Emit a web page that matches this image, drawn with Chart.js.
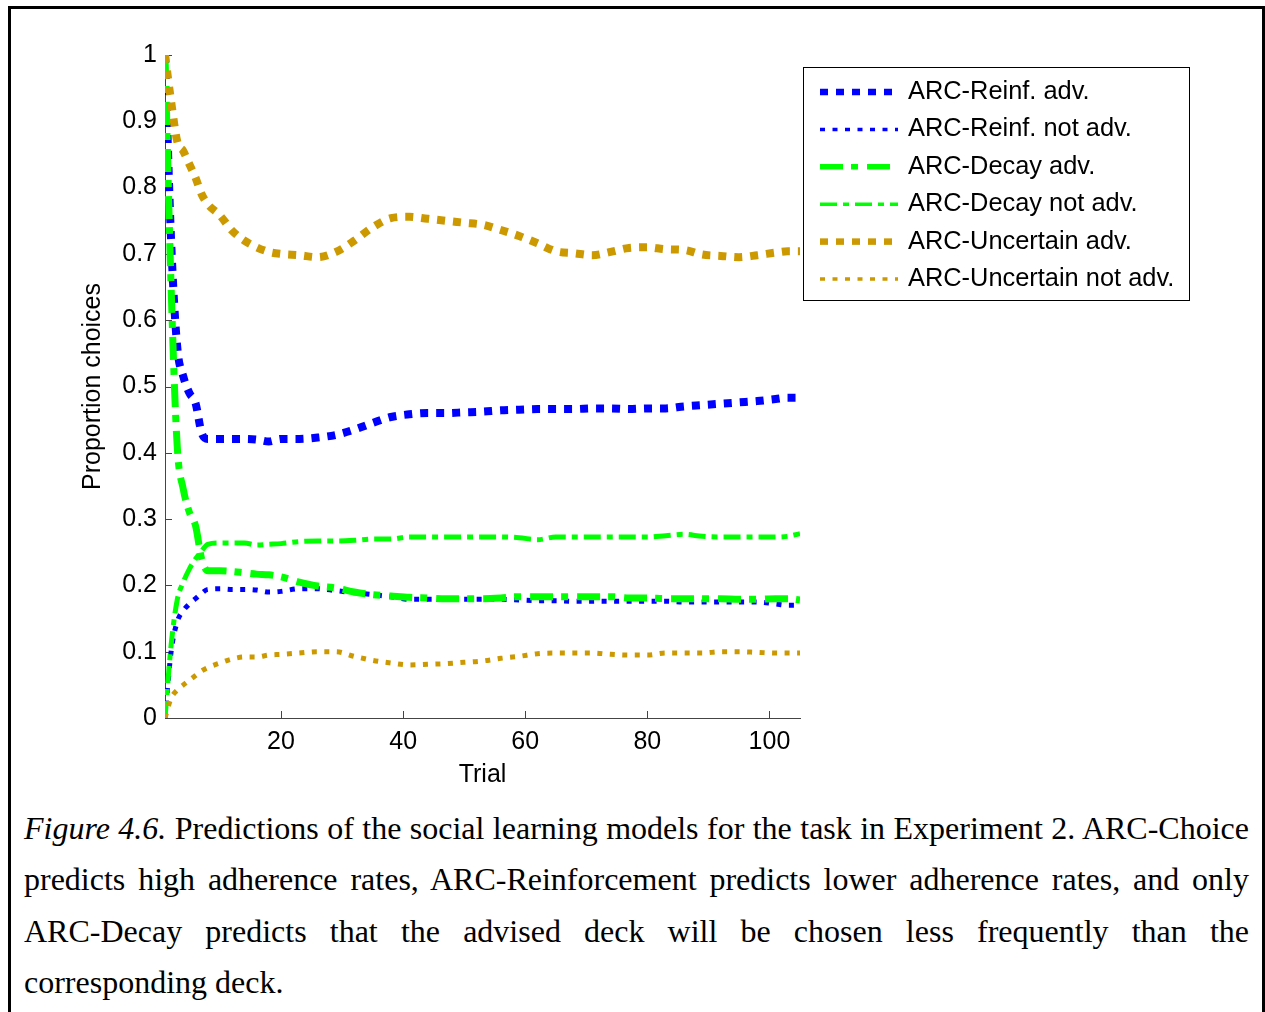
<!DOCTYPE html>
<html>
<head>
<meta charset="utf-8">
<script src="https://cdn.jsdelivr.net/npm/chart.js@4.4.1/dist/chart.umd.min.js"></script>
<style>
  html, body { margin: 0; padding: 0; background: #fff; overflow: hidden; }
  body { width: 1265px; height: 1012px; position: relative; }
  #frame {
    position: absolute; left: 8px; top: 6px; width: 1251px; height: 1100px;
    border: 3px solid #000;
  }
  #plot { position: absolute; left: 0; top: 0; }
  #caption {
    position: absolute; left: 24px; top: 803px; width: 1225px;
    font-family: "Liberation Serif", "Times New Roman", serif;
    font-size: 32px; line-height: 51.4px; color: #000;
  }
  #caption .j { text-align: justify; text-align-last: justify; }
</style>
</head>
<body>
<div id="frame"></div>
<canvas id="plot" width="1265" height="790"></canvas>
<div id="caption">
  <div class="j"><i>Figure 4.6.</i> Predictions of the social learning models for the task in Experiment 2. ARC-Choice</div>
  <div class="j">predicts high adherence rates, ARC-Reinforcement predicts lower adherence rates, and only</div>
  <div class="j">ARC-Decay predicts that the advised deck will be chosen less frequently than the</div>
  <div>corresponding deck.</div>
</div>
<script>
// trial numbers sampled along the x axis
const trials = [1, 2, 3, 4, 5, 6, 7, 8, 10, 12, 14, 16, 18, 20,
    23, 26, 29, 32, 35, 38, 41, 44, 47, 50, 53, 56, 59, 62, 65, 68, 71, 74, 77, 80,
    83, 86, 89, 92, 95, 98, 101, 103, 105]

const reinfAdv = [1.0, 0.72, 0.56, 0.515, 0.49, 0.475, 0.43, 0.421, 0.421, 0.421, 0.421, 0.42, 0.417, 0.421,
    0.421, 0.423, 0.427, 0.435, 0.445, 0.454, 0.458, 0.46, 0.46, 0.461, 0.462, 0.464, 0.465, 0.466, 0.466, 0.466, 0.467, 0.467, 0.466, 0.467,
    0.467, 0.47, 0.472, 0.474, 0.476, 0.478, 0.481, 0.483, 0.483]
const reinfNot = [0.0, 0.10, 0.145, 0.162, 0.172, 0.18, 0.188, 0.194, 0.195, 0.194, 0.194, 0.193, 0.19, 0.191,
    0.195, 0.195, 0.192, 0.189, 0.186, 0.183, 0.179, 0.179, 0.179, 0.179, 0.179, 0.179, 0.178, 0.177, 0.177, 0.176, 0.176, 0.176, 0.176, 0.176,
    0.176, 0.175, 0.175, 0.175, 0.175, 0.175, 0.172, 0.17, 0.17]
const decayAdv = [1.0, 0.65, 0.41, 0.345, 0.31, 0.29, 0.24, 0.222, 0.222, 0.221, 0.219, 0.217, 0.216, 0.213,
    0.205, 0.199, 0.196, 0.19, 0.186, 0.184, 0.182, 0.181, 0.18, 0.18, 0.18, 0.181, 0.183, 0.183, 0.183, 0.183, 0.183, 0.183, 0.181, 0.181,
    0.18, 0.18, 0.18, 0.18, 0.179, 0.179, 0.18, 0.18, 0.178]
const decayNot = [0.0, 0.11, 0.178, 0.205, 0.225, 0.24, 0.252, 0.262, 0.264, 0.264, 0.264, 0.261, 0.262, 0.263,
    0.266, 0.267, 0.267, 0.268, 0.27, 0.27, 0.273, 0.273, 0.273, 0.273, 0.273, 0.273, 0.272, 0.269, 0.273, 0.273, 0.273, 0.273, 0.273, 0.273,
    0.275, 0.277, 0.274, 0.273, 0.273, 0.273, 0.273, 0.274, 0.278]
const uncAdv = [1.0, 0.93, 0.87, 0.855, 0.835, 0.815, 0.79, 0.775, 0.758, 0.735, 0.72, 0.71, 0.703, 0.70,
    0.698, 0.695, 0.703, 0.72, 0.74, 0.754, 0.756, 0.753, 0.75, 0.747, 0.744, 0.736, 0.727, 0.716, 0.704, 0.701, 0.698, 0.703, 0.709, 0.71,
    0.707, 0.706, 0.699, 0.697, 0.695, 0.698, 0.702, 0.704, 0.704]
const uncNot = [0.0, 0.03, 0.042, 0.05, 0.057, 0.064, 0.071, 0.076, 0.083, 0.089, 0.092, 0.092, 0.095, 0.096,
    0.098, 0.1, 0.1, 0.093, 0.087, 0.083, 0.08, 0.081, 0.082, 0.084, 0.086, 0.09, 0.093, 0.097, 0.098, 0.098, 0.098, 0.096, 0.095, 0.095,
    0.098, 0.098, 0.098, 0.1, 0.1, 0.099, 0.098, 0.098, 0.098]

const seriesNames = ['ARC-Reinf. adv.', 'ARC-Reinf. not adv.', 'ARC-Decay adv.',
    'ARC-Decay not adv.', 'ARC-Uncertain adv.', 'ARC-Uncertain not adv.']
const seriesValues = [reinfAdv, reinfNot, decayAdv, decayNot, uncAdv, uncNot]

const xTicks = [20, 40, 60, 80, 100]
const yTicks = [0, 0.1, 0.2, 0.3, 0.4, 0.5, 0.6, 0.7, 0.8, 0.9, 1]

// line look per series (matlab style)
const styles = [
    { color: '#0000ff', width: 8, dash: [8, 8] },
    { color: '#0000ff', width: 5, dash: [5, 7.5] },
    { color: '#00ff00', width: 7, dash: [23, 8, 7, 9] },
    { color: '#00ff00', width: 5, dash: [17, 6, 6, 6] },
    { color: '#cc9900', width: 8, dash: [8, 8] },
    { color: '#cc9900', width: 5, dash: [5, 7.5] }
]

Chart.defaults.font.family = '"Liberation Sans", Arial, sans-serif'
Chart.defaults.font.size = 25
Chart.defaults.color = '#000'

const datasets = seriesNames.map(function(name, i) {
    return {
        label: name,
        data: trials.map(function(t, k) { return { x: t, y: seriesValues[i][k] } }),
        borderColor: styles[i].color,
        borderWidth: styles[i].width,
        borderDash: styles[i].dash,
        borderCapStyle: 'butt',
        pointRadius: 0,
        fill: false,
        cubicInterpolationMode: 'monotone',
        order: seriesNames.length - i
    }
})

// inward tick marks like the original figure
const innerTicks = {
    id: 'innerTicks',
    beforeDatasetsDraw(chart) {
        const ctx = chart.ctx
        const xs = chart.scales.x, ys = chart.scales.y
        const area = chart.chartArea
        ctx.save()
        ctx.strokeStyle = '#444'
        ctx.lineWidth = 1
        ctx.beginPath()
        xTicks.forEach(function(v) {
            const px = Math.round(xs.getPixelForValue(v)) + 0.5
            ctx.moveTo(px, area.bottom)
            ctx.lineTo(px, area.bottom - 7)
        })
        yTicks.forEach(function(v) {
            const py = Math.round(ys.getPixelForValue(v)) + 0.5
            ctx.moveTo(area.left, py)
            ctx.lineTo(area.left + 7, py)
        })
        ctx.stroke()
        ctx.restore()
    }
}

// boxed legend with the dashed line samples
const boxLegend = {
    id: 'boxLegend',
    afterDraw(chart) {
        const ctx = chart.ctx
        const left = 803, top = 67, w = 386, h = 233
        ctx.save()
        ctx.fillStyle = '#fff'
        ctx.fillRect(left, top, w, h)
        ctx.strokeStyle = '#000'
        ctx.lineWidth = 1
        ctx.strokeRect(left + 0.5, top + 0.5, w, h)
        ctx.font = '25.4px "Liberation Sans", Arial, sans-serif'
        ctx.textBaseline = 'middle'
        ctx.fillStyle = '#000'
        chart.data.datasets.forEach(function(ds, i) {
            const y = 92 + i * 37.4
            ctx.strokeStyle = ds.borderColor
            ctx.lineWidth = ds.borderWidth - 1.5
            ctx.setLineDash(ds.borderDash)
            ctx.lineCap = 'butt'
            ctx.beginPath()
            ctx.moveTo(820, y)
            ctx.lineTo(898, y)
            ctx.stroke()
            ctx.setLineDash([])
            ctx.fillText(ds.label, 908, y)
        })
        ctx.restore()
    }
}

const ctx = document.getElementById('plot').getContext('2d')
const chart = new Chart(ctx, {
    type: 'line',
    data: { datasets: datasets },
    options: {
        responsive: false,
        animation: false,
        devicePixelRatio: 1,
        layout: { padding: { left: 78, right: 465, top: 55, bottom: 0 } },
        plugins: { legend: { display: false }, tooltip: { enabled: false } },
        scales: {
            x: {
                type: 'linear',
                min: 1,
                max: 105,
                afterBuildTicks: function(scale) { scale.ticks = xTicks.map(function(v) { return { value: v } }) },
                afterFit: function(scale) { scale.height = 72 },
                grid: { display: false, drawTicks: false },
                border: { display: true, color: '#444', width: 1 },
                ticks: { padding: 9, maxRotation: 0, autoSkip: false },
                title: { display: true, text: 'Trial', padding: 0 }
            },
            y: {
                type: 'linear',
                min: 0,
                max: 1,
                afterBuildTicks: function(scale) { scale.ticks = yTicks.map(function(v) { return { value: v } }) },
                afterFit: function(scale) { scale.width = 87 },
                grid: { display: false, drawTicks: false },
                border: { display: true, color: '#444', width: 1 },
                ticks: {
                    padding: 8,
                    autoSkip: false,
                    callback: function(v) { return String(Number(v.toFixed(1))) }
                },
                title: { display: true, text: 'Proportion choices', padding: 0 }
            }
        }
    },
    plugins: [innerTicks, boxLegend]
})
</script>
</body>
</html>
